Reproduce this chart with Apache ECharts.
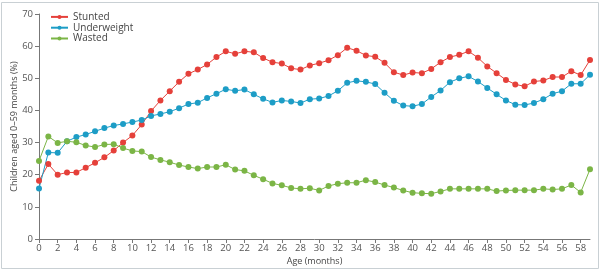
<!DOCTYPE html>
<html><head><meta charset="utf-8">
<script src="https://cdn.jsdelivr.net/npm/echarts@6/dist/echarts.min.js"></script>
<style>html,body{margin:0;padding:0;background:#fff}#c{width:600px;height:271px}</style>
</head><body><div id="c"></div>
<script>
const months = Array.from({length:60},(_, i)=>String(i));
const stunted = [18.1,23.3,20.0,20.7,20.7,22.2,23.7,25.4,27.5,30.0,
 32.2,35.6,39.8,43.1,46.0,48.9,51.4,52.7,54.3,56.6,
 58.4,57.6,58.4,58.1,56.3,55.0,54.6,53.1,52.7,54.0,
 54.7,55.6,57.2,59.5,58.6,57.1,56.7,54.8,51.9,51.0,
 51.8,51.6,52.9,55.0,56.6,57.3,58.4,56.4,53.7,51.6,
 49.5,48.1,47.5,49.0,49.3,50.4,50.4,52.2,51.0,55.7];
const underweight = [15.7,26.9,26.8,30.4,31.7,32.5,33.5,34.5,35.3,35.8,
 36.4,37.0,38.3,38.9,39.6,40.7,42.0,42.4,43.9,45.2,
 46.6,46.1,46.5,45.0,43.6,42.5,43.1,42.8,42.3,43.5,
 43.7,44.5,46.1,48.6,49.2,48.9,48.2,45.5,43.0,41.5,
 41.3,42.0,44.2,46.2,48.8,50.0,50.6,49.0,47.0,45.0,
 43.1,41.8,41.7,42.3,43.5,45.2,46.0,48.3,48.3,51.1];
const wasted = [24.3,31.9,29.9,30.4,30.1,29.1,28.6,29.4,29.5,28.3,
 27.4,27.2,25.5,24.6,23.9,23.0,22.4,21.9,22.4,22.4,
 23.1,21.6,21.2,19.8,18.6,17.3,16.7,15.9,15.6,15.8,
 15.1,16.5,17.2,17.5,17.5,18.3,17.7,16.8,16.0,15.1,
 14.4,14.2,14.1,14.8,15.6,15.6,15.6,15.6,15.6,14.9,
 15.1,15.2,15.2,15.2,15.6,15.4,15.6,16.8,14.5,21.7];
const seriesNames = ['Stunted','Underweight','Wasted'];
const colors = ['#e5403a','#1d9dc6','#7bb546'];
const yTicks = {min:0, max:70, interval:10};

const font = 'Open Sans, Noto Sans, sans-serif';
const chart = echarts.init(document.getElementById('c'), null, {renderer:'canvas'});
const mk = (name, data, c) => ({
  name, type:'line', data, symbol:'circle', symbolSize:6,
  itemStyle:{color:c}, lineStyle:{color:c, width:1}, animation:false
});
chart.setOption({
  animation:false,
  graphic:[{type:'rect', shape:{x:1.5,y:2.5,width:597,height:266}, style:{fill:'none', stroke:'#c9d0d4', lineWidth:1}, silent:true}],
  grid:{left:39, right:10, top:14, bottom:32, containLabel:false, outerBoundsMode:'none'},
  legend:{orient:'vertical', left:45, top:6.5, itemGap:0, itemWidth:17, itemHeight:5,
    textStyle:{fontFamily:font, fontSize:10, color:'#444', lineHeight:10.8}, data:seriesNames},
  xAxis:{type:'category', data:months, boundaryGap:false,
    name:'Age (months)', nameLocation:'middle', nameGap:18, nameMoveOverlap:false,
    nameTextStyle:{fontFamily:font, fontSize:9, color:'#444'},
    axisLine:{lineStyle:{color:'#777', width:1}},
    axisTick:{interval:1, length:4, lineStyle:{color:'#777'}},
    axisLabel:{interval:1, fontFamily:font, fontSize:9.5, color:'#555', margin:4}},
  yAxis:{type:'value', min:yTicks.min, max:yTicks.max, interval:yTicks.interval,
    name:'Children aged 0–59 months (%)', nameLocation:'middle', nameGap:20, nameMoveOverlap:false,
    nameTextStyle:{fontFamily:font, fontSize:9, color:'#444'},
    axisLine:{show:true, lineStyle:{color:'#777', width:1}},
    axisTick:{show:true, length:4, lineStyle:{color:'#777'}},
    splitLine:{show:false},
    axisLabel:{fontFamily:font, fontSize:9.5, color:'#555', margin:6}},
  series:[mk(seriesNames[0], stunted, colors[0]), mk(seriesNames[1], underweight, colors[1]), mk(seriesNames[2], wasted, colors[2])]
});
</script></body></html>
